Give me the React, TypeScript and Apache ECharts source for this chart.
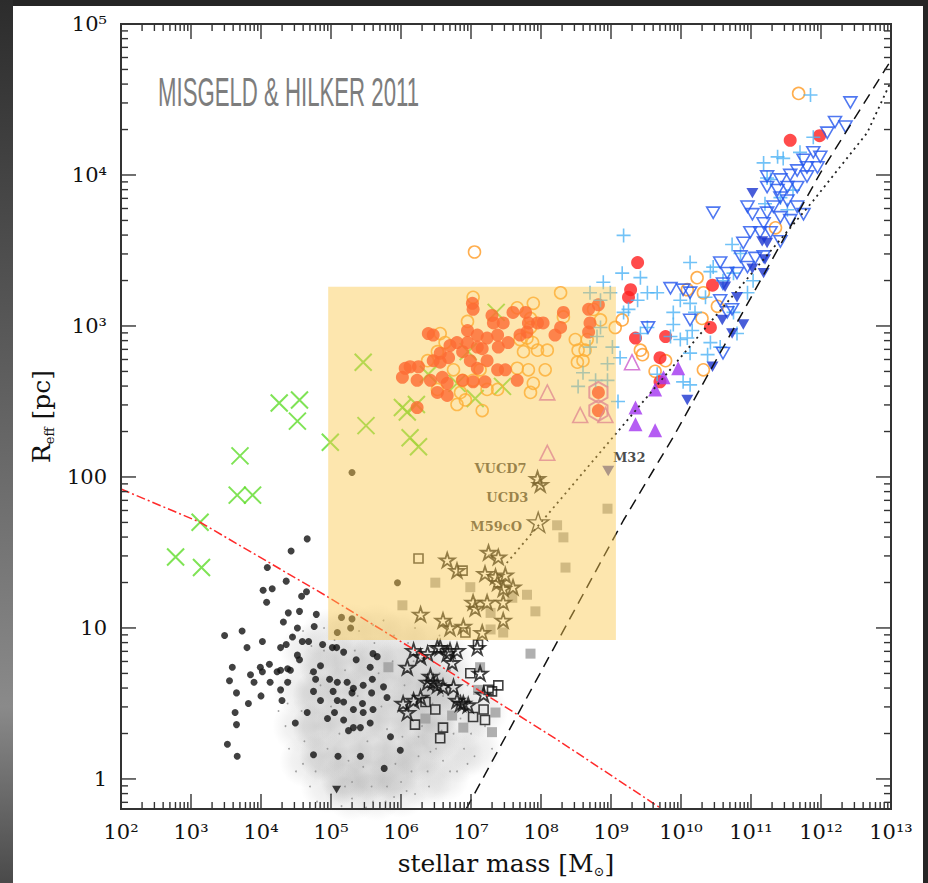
import React, { useEffect, useRef } from "react";
import * as echarts from "echarts";

// Every point: [log10(stellar mass / Msun), log10(R_eff / pc)]
const greenCross = [
  [2.78, 1.47], [3.15, 1.4], [3.13, 1.7], [3.66, 1.88], [3.88, 1.88], [3.7, 2.14], [4.26, 2.49], [4.55, 2.51],
  [4.52, 2.37], [4.99, 2.23], [5.46, 2.76], [5.5, 2.34], [6.02, 2.46], [6.09, 2.43], [6.13, 2.26], [6.25, 2.2],
  [6.22, 2.48], [6.39, 2.68], [6.8, 2.62], [6.96, 2.83], [7.06, 2.52], [7.36, 3.09], [7.45, 2.6],
];
const orangeCircle = [
  [7.03, 3.19], [7.89, 3.15], [8.28, 3.22], [6.95, 3.03], [6.56, 2.95], [6.63, 2.89], [6.38, 2.77], [6.52, 2.83],
  [7.66, 3.12], [7.85, 3.05], [7.7, 2.91], [7.8, 2.92], [7.88, 2.89], [7.75, 2.83], [7.95, 2.84], [8.09, 2.84],
  [7.85, 2.99], [8.32, 3.06], [8.49, 2.91], [8.53, 2.84], [8.6, 2.77], [8.52, 2.76], [7.66, 2.72], [7.82, 2.71],
  [8.06, 2.71], [7.89, 2.62], [7.85, 2.56], [6.85, 2.56], [6.92, 2.51], [6.8, 2.48], [7.16, 2.44], [6.88, 2.64],
  [6.75, 2.71], [7.13, 2.71], [7.03, 2.64], [6.52, 2.58], [7.23, 2.58], [7.38, 2.58], [9.06, 2.99], [9.16, 3.04],
  [8.85, 3.04], [8.66, 2.91], [8.63, 2.84], [8.75, 3.11],
  [7.05, 3.49], [11.68, 4.54], [11.35, 3.65], [10.23, 3.32], [10.09, 3.24], [10.32, 3.22], [10.52, 3.13],
  [10.3, 3.05], [9.42, 2.84], [9.45, 2.81], [9.63, 2.7], [9.78, 2.77], [10.32, 2.71],
];
const redDisc = [
  [11.56, 4.23], [11.98, 4.26], [9.38, 3.42], [9.28, 3.24], [9.25, 3.19], [10.45, 3.27], [9.35, 2.92], [9.78, 2.93],
  [9.7, 2.79], [9.7, 2.63], [10.42, 2.99], [8.82, 2.56], [8.82, 2.44],
  [7.02, 3.15], [7.03, 3.11], [6.39, 2.95], [6.46, 2.94], [7.6, 3.09], [7.78, 3.09], [7.46, 3.02], [7.32, 3.02],
  [8.03, 3.02], [8.32, 3.09], [8.28, 2.99], [8.2, 2.94], [8.68, 3.11], [8.82, 3.14], [8.7, 3.02], [8.68, 2.96],
  [7.8, 2.96], [7.7, 2.94], [7.53, 2.89], [7.39, 2.86], [7.23, 2.92], [7.09, 2.94], [6.95, 2.97], [6.8, 2.89],
  [6.88, 2.83], [6.99, 2.77], [7.16, 2.85], [7.23, 2.77], [7.38, 2.71], [7.49, 2.71], [7.09, 2.72], [6.68, 2.79],
  [6.56, 2.76], [6.46, 2.77], [6.25, 2.73], [6.13, 2.73], [6.06, 2.72], [6.02, 2.66], [6.23, 2.64], [6.42, 2.64],
  [6.59, 2.66], [6.66, 2.62], [6.88, 2.64], [7.03, 2.63], [7.2, 2.63], [6.52, 2.56], [6.66, 2.54], [6.23, 2.46],
  [7.66, 2.64], [6.95, 2.89], [7.09, 2.86], [6.7, 2.87], [6.56, 2.82], [7.38, 2.94], [7.95, 3.02], [7.82, 3.02],
  [7.3, 3.07],
];
const cyanPlus = [
  [11.85, 4.53], [9.18, 3.6], [11.89, 4.25], [11.38, 4.12], [11.46, 4.11], [11.7, 4.15], [11.28, 3.97], [11.2, 3.81],
  [11.6, 3.9], [10.13, 3.42], [10.42, 3.36], [9.42, 3.32], [8.89, 3.29], [9.16, 3.35], [9.66, 3.22], [9.52, 3.22],
  [9.38, 3.17], [9.25, 3.11], [9.89, 3.09], [9.99, 3.17], [10.13, 3.15], [10.2, 3.09], [9.89, 3.01], [9.85, 2.93],
  [9.99, 2.91], [10.09, 2.92], [10.16, 2.97], [10.42, 2.89], [10.56, 2.86], [10.8, 2.95], [10.75, 3.09],
  [10.95, 3.22], [11.03, 3.3], [10.75, 3.35], [10.46, 3.39], [10.6, 3.3], [10.35, 3.19], [10.13, 2.82],
  [10.03, 2.63], [9.66, 2.68], [9.13, 2.79], [9.02, 2.86], [9.52, 2.99], [9.42, 2.95], [9.1, 2.5], [9.18, 3.09],
  [8.85, 3.17], [8.99, 3.22], [8.7, 3.22], [8.85, 2.99], [8.7, 2.86], [8.95, 2.64], [10.38, 2.81], [10.13, 2.61],
  [11.23, 3.98], [11.18, 4.08], [11.42, 3.85], [11.52, 3.77], [10.85, 3.48], [10.73, 3.54], [8.8, 2.93],
  [8.6, 2.69], [8.53, 2.6], [8.78, 2.64], [8.95, 2.75],
];
const blueOpenTri = [
  [12.42, 4.48], [12.2, 4.35], [12.35, 4.32], [12.09, 4.28], [11.89, 4.15], [11.99, 4.12], [11.75, 4.1],
  [11.95, 4.05], [11.8, 4.05], [11.66, 4.03], [11.56, 4.0], [11.23, 3.99], [11.42, 3.97], [11.23, 3.92],
  [11.38, 3.9], [11.52, 3.92], [11.66, 3.92], [11.8, 3.99], [11.42, 3.85], [11.52, 3.83], [11.66, 3.79],
  [11.32, 3.79], [10.95, 3.79], [11.02, 3.74], [11.23, 3.75], [11.42, 3.72], [11.56, 3.7], [11.75, 3.74],
  [10.46, 3.75], [11.18, 3.68], [11.28, 3.62], [11.13, 3.62], [11.42, 3.56], [10.89, 3.55], [10.99, 3.62],
  [10.85, 3.46], [11.06, 3.45], [11.18, 3.46], [10.56, 3.42], [10.66, 3.35], [10.8, 3.35], [10.6, 3.28],
  [10.95, 3.39], [9.85, 3.25], [10.03, 3.24], [10.13, 3.22], [10.66, 3.09], [10.56, 3.17], [9.53, 2.99],
  [10.13, 3.04], [10.6, 2.82], [10.73, 3.11],
];
const blueFilledTri = [
  [11.02, 3.88], [11.16, 3.56], [11.2, 3.44], [10.63, 3.26], [10.8, 3.19], [10.59, 3.04], [10.89, 3.01],
  [10.73, 2.95], [10.45, 2.73], [10.09, 2.51], [11.02, 3.38], [11.23, 3.55], [11.18, 3.35],
];
const m32Tri = [[8.96, 2.04]];
const blackTriangle = [[5.08, -0.07]];
const purpleTri = [[9.96, 2.72], [9.75, 2.66], [9.63, 2.58], [9.35, 2.46], [9.35, 2.35], [9.63, 2.31]];
const magentaTri = [[8.09, 2.56], [8.56, 2.41], [8.09, 2.16], [9.3, 2.76], [8.92, 2.41]];
const magentaHex = [[8.82, 2.56], [8.82, 2.44]];
const blackStar = [
  [7.95, 1.99], [7.99, 1.95], [7.25, 1.5], [7.39, 1.47], [6.66, 1.45], [6.8, 1.38], [7.2, 1.36], [7.35, 1.34],
  [7.49, 1.35], [7.38, 1.3], [7.46, 1.26], [7.6, 1.27], [7.23, 1.17], [7.03, 1.17], [7.06, 1.13], [7.46, 1.17],
  [7.46, 1.05], [6.28, 1.09], [6.6, 1.05], [6.7, 1.0], [6.89, 1.01], [7.16, 0.97], [6.56, 0.87], [6.7, 0.85],
  [6.8, 0.85], [7.09, 0.87], [6.73, 0.77], [7.13, 0.7], [6.52, 0.62], [6.6, 0.61], [6.75, 0.61], [6.8, 0.52],
  [6.89, 0.5], [6.96, 0.49], [7.18, 0.56], [6.42, 0.68], [6.18, 0.85], [6.28, 0.81], [6.38, 0.83], [6.52, 0.87],
  [6.66, 0.83], [6.09, 0.74], [6.38, 0.64], [6.46, 0.64], [6.18, 0.52], [6.03, 0.5], [6.09, 0.44], [6.28, 0.54],
  [6.85, 0.5],
];
const m59co = [[7.96, 1.7]];
const openSquare = [
  [6.25, 1.46], [6.88, 1.38], [7.1, 0.89], [6.99, 0.7], [7.39, 0.62], [7.18, 0.46], [7.2, 0.39], [6.6, 0.34],
  [6.56, 0.27], [6.49, 0.46], [6.2, 0.36], [6.35, 0.51], [7.3, 0.58], [7.03, 0.41], [7.25, 0.59], [6.92, 0.97],
];
const graySquare = [
  [8.23, 1.68], [8.32, 1.6], [8.35, 1.4], [8.95, 1.79], [7.92, 1.11], [7.8, 1.22], [7.59, 1.2], [7.28, 1.1],
  [7.28, 0.99], [7.46, 0.97], [6.99, 1.27], [6.49, 1.3], [6.02, 1.15], [7.85, 0.83], [7.13, 0.74], [7.35, 0.44],
  [6.89, 0.34], [7.3, 0.31], [6.73, 0.42], [7.1, 0.59], [5.82, 0.74], [6.35, 0.4],
];
const blackDot = [
  [4.66, 1.59], [4.43, 1.51], [4.09, 1.4], [4.36, 1.31], [4.16, 1.26], [4.03, 1.25], [4.65, 1.24], [4.58, 1.21],
  [4.08, 1.17], [4.39, 1.1], [4.55, 1.11], [4.32, 1.04], [4.79, 1.09], [4.52, 1.0], [4.76, 1.01], [4.45, 0.94],
  [4.59, 0.91], [4.68, 0.91], [4.88, 0.89], [3.48, 0.95], [3.73, 0.98], [3.8, 0.87], [4.02, 0.91], [4.28, 0.87],
  [4.36, 0.89], [4.52, 0.82], [4.55, 0.79], [5.02, 0.87], [5.08, 0.87], [5.18, 0.84], [5.36, 0.79], [5.6, 0.83],
  [5.66, 0.81], [3.59, 0.74], [3.55, 0.65], [3.85, 0.69], [3.9, 0.64], [3.99, 0.74], [4.12, 0.76], [4.02, 0.71],
  [4.23, 0.71], [4.28, 0.72], [4.38, 0.73], [4.42, 0.72], [4.13, 0.64], [4.38, 0.64], [4.28, 0.59], [4.3, 0.52],
  [4.0, 0.55], [3.65, 0.57], [3.82, 0.5], [4.75, 0.71], [4.78, 0.66], [4.85, 0.75], [4.98, 0.66], [5.09, 0.64],
  [5.23, 0.64], [5.32, 0.6], [5.46, 0.62], [5.59, 0.66], [5.75, 0.61], [4.85, 0.52], [5.09, 0.52], [5.18, 0.51],
  [4.75, 0.58], [5.03, 0.58], [5.3, 0.57], [5.58, 0.57], [5.8, 0.54], [4.66, 0.44], [4.95, 0.4], [5.05, 0.44],
  [5.32, 0.46], [5.46, 0.44], [5.45, 0.5], [5.6, 0.46], [5.18, 0.39], [5.32, 0.34], [5.42, 0.34], [5.56, 0.37],
  [5.25, 0.32], [5.85, 0.28], [5.99, 0.19], [4.75, 0.16], [5.1, 0.15], [5.42, 0.15], [5.76, 0.07], [4.49, 0.37],
  [3.63, 0.44], [3.65, 0.36], [3.52, 0.23], [3.66, 0.15], [5.56, 0.74], [5.95, 1.3], [5.15, 1.07], [5.3, 1.06],
  [5.28, 1.0], [5.09, 0.97], [5.3, 2.03],
];
// the dense globular-cluster cloud, drawn as soft overlapping blobs plus faint specks
const cloudOuter = [
  [4.65, 0.85], [4.95, 0.95], [5.3, 0.98], [5.65, 0.98], [6.0, 0.95], [6.35, 0.9], [6.65, 0.8], [4.55, 0.6],
  [6.8, 0.62], [4.55, 0.35], [6.9, 0.4], [4.65, 0.12], [6.8, 0.15], [4.95, -0.05], [5.3, -0.1], [5.65, -0.1],
  [6.0, -0.08], [6.35, -0.02], [6.6, 0.02], [7.05, 0.2], [7.15, 0.45],
];
const cloudInner = [
  [4.9, 0.75], [5.25, 0.78], [5.6, 0.78], [5.95, 0.76], [6.3, 0.7], [6.55, 0.6], [4.8, 0.55], [5.15, 0.58],
  [5.5, 0.6], [5.85, 0.58], [6.2, 0.55], [6.5, 0.45], [4.8, 0.35], [5.15, 0.38], [5.5, 0.4], [5.85, 0.4],
  [6.2, 0.36], [6.5, 0.28], [4.9, 0.15], [5.25, 0.18], [5.6, 0.2], [5.95, 0.18], [6.25, 0.15], [5.2, 0.0],
  [5.55, 0.02], [5.9, 0.02],
];
const cloudSpeck = [
  [4.45, 0.95], [4.6, 0.98], [5.6, 1.02], [5.9, 0.95], [6.1, 0.9], [6.3, 0.8], [6.55, 0.7], [6.6, 0.55],
  [6.75, 0.3], [6.9, 0.2], [6.95, 0.1], [6.7, 0.05], [6.4, -0.05], [6.2, -0.1], [5.9, -0.12], [5.6, -0.15],
  [5.3, -0.13], [5.0, -0.1], [4.7, -0.05], [4.5, 0.05], [4.4, 0.2], [4.35, 0.35], [4.38, 0.5], [4.42, 0.65],
  [4.5, 0.8], [6.45, 0.62], [6.5, 0.2], [6.25, 0.15], [6.15, 0.05], [6.6, 0.12], [4.8, -0.15], [5.15, -0.18],
  [5.5, -0.19], [5.8, -0.05], [6.0, -0.02], [6.3, 0.35], [6.85, 0.4], [7.0, 0.3], [7.05, 0.15], [6.55, 0.95],
  [6.2, 1.0], [5.75, 1.05], [5.4, 0.98], [4.9, 1.0], [4.3, 0.6], [4.25, 0.45], [7.2, 0.35], [7.3, 0.2],
  [6.95, 0.62], [5.2, -0.05], [4.6, 0.1], [6.8, 0.05],
  [4.7, 0.7], [4.85, 0.62], [5.0, 0.48], [5.12, 0.3], [5.25, 0.12], [5.38, 0.55], [5.52, 0.25], [5.68, 0.7],
  [5.8, 0.33], [5.92, 0.1], [6.05, 0.62], [6.12, 0.42], [6.25, 0.28], [6.38, 0.05], [6.45, 0.5], [4.62, 0.25],
  [4.78, 0.05], [4.9, 0.85], [5.05, 0.92], [5.2, 0.72], [5.34, 0.85], [5.46, 0.08], [5.58, -0.05], [5.72, 0.48],
  [5.88, 0.78], [6.02, 0.28], [6.18, 0.78], [6.32, 0.62], [6.58, 0.32], [6.7, 0.72], [4.58, 0.45], [4.72, 0.88],
  [5.62, 0.9], [6.08, -0.08], [5.3, -0.02], [4.95, 0.2], [5.78, -0.15], [6.42, 0.18], [6.92, 0.5], [7.1, 0.6],
];
// reference relations
const redLimitLine = [[2, 1.92], [3.13, 1.7], [4.94, 1.21], [6.42, 0.79], [8.23, 0.26], [9.73, -0.2]];
const dashedLine = [[6.93, -0.2], [9.18, 1.715], [9.89, 2.265], [11.99, 4.013], [13, 4.76]];
const dottedLine = [[7.51, 1.43], [9.04, 2.27], [11.89, 3.83], [12.66, 4.28], [13, 4.62]];
// highlighted region [log M0, log M1, log R0, log R1]
const zoaBox = [4.96, 9.07, 0.92, 3.26];
const namedObjects = [
  { name: "VUCD7", m: 7.95, r: 1.99 },
  { name: "UCD3", m: 7.99, r: 1.95 },
  { name: "M59cO", m: 7.96, r: 1.7 },
  { name: "M32", m: 8.96, r: 2.04 },
];
const xTickExps = [2, 3, 4, 5, 6, 7, 8, 9, 10, 11, 12, 13];
const xTickLabels = ["10²", "10³", "10⁴", "10⁵", "10⁶", "10⁷", "10⁸", "10⁹", "10¹⁰", "10¹¹", "10¹²", "10¹³"];
const yTickExps = [0, 1, 2, 3, 4, 5];
const yTickLabels = ["1", "10", "100", "10³", "10⁴", "10⁵"];

const X_MIN = 1e2;
const X_MAX = 1e13;
const Y_MIN = Math.pow(10, -0.199);
const Y_MAX = 1e5;

const labelOffsets: Record<string, number[]> = {
  VUCD7: [-37, -10],
  UCD3: [-33, 13],
  M59cO: [-42, 4],
  M32: [21, -13],
};

const SYM = {
  cross: "path://M0,0L10,10M10,0L0,10",
  plus: "path://M5,0L5,10M0,5L10,5",
  triDown: "path://M0,0L10,0L5,8.66Z",
  star: "path://M50,0L61.2,34.5L97.6,34.5L68.2,55.9L79.4,90.5L50,69.1L20.6,90.5L31.8,55.9L2.4,34.5L38.8,34.5Z",
  hex: "path://M43.3,0L86.6,25L86.6,75L43.3,100L0,75L0,25Z",
};

const P = (arr: number[][]) => arr.map(([m, r]) => [Math.pow(10, m), Math.pow(10, r)]);
const NONE = "rgba(0,0,0,0)";

function sc(data: number[][], symbol: string, size: number, itemStyle: any, extra: any = {}) {
  return {
    type: "scatter",
    data: P(data),
    symbol,
    symbolSize: size,
    symbolKeepAspect: true,
    itemStyle,
    silent: true,
    ...extra,
  };
}

function soft(alpha: number) {
  return {
    type: "radial", x: 0.5, y: 0.5, r: 0.5,
    colorStops: [
      { offset: 0, color: `rgba(140,140,140,${alpha})` },
      { offset: 0.55, color: `rgba(150,150,150,${alpha * 0.7})` },
      { offset: 1, color: "rgba(160,160,160,0)" },
    ],
  };
}

function labelFrom(exps: number[], labels: string[]) {
  return (v: number) => {
    const l = Math.log10(v);
    const e = Math.round(l);
    if (Math.abs(l - e) > 1e-6) return "";
    const i = exps.indexOf(e);
    return i >= 0 ? labels[i] : "";
  };
}

function ticksRender(params: any, api: any) {
  const [x0, yB] = api.coord([X_MIN, Y_MIN]);
  const [x1, yT] = api.coord([X_MAX, Y_MAX]);
  const children: any[] = [];
  const st = () => ({ stroke: "#333", lineWidth: 1.4 });
  for (let e = 2; e < 13; e++) {
    for (let m = 1; m <= 9; m++) {
      const x = api.coord([m * Math.pow(10, e), 10])[0];
      const L = m === 1 ? 15 : 7;
      children.push({ type: "line", shape: { x1: x, y1: yB, x2: x, y2: yB - L }, style: st() });
      children.push({ type: "line", shape: { x1: x, y1: yT, x2: x, y2: yT + L }, style: st() });
    }
  }
  for (let e = -1; e < 5; e++) {
    for (let m = 1; m <= 9; m++) {
      const v = m * Math.pow(10, e);
      if (v < Y_MIN || v > Y_MAX) continue;
      const y = api.coord([1e5, v])[1];
      const L = m === 1 ? 15 : 7;
      children.push({ type: "line", shape: { x1: x0, y1: y, x2: x0 + L, y2: y }, style: st() });
      children.push({ type: "line", shape: { x1: x1, y1: y, x2: x1 - L, y2: y }, style: st() });
    }
  }
  children.push({
    type: "rect",
    shape: { x: x0, y: yT, width: x1 - x0, height: yB - yT },
    style: { fill: "none", stroke: "#333", lineWidth: 2 },
  });
  return { type: "group", children };
}

function overlayRender(params: any, api: any) {
  const a = api.coord([Math.pow(10, zoaBox[0]), Math.pow(10, zoaBox[3])]);
  const b = api.coord([Math.pow(10, zoaBox[1]), Math.pow(10, zoaBox[2])]);
  return {
    type: "rect",
    shape: { x: a[0], y: a[1], width: b[0] - a[0], height: b[1] - a[1] },
    style: { fill: "rgba(250,200,75,0.45)" },
  };
}

export default function App() {
  const ref = useRef<HTMLDivElement>(null);
  useEffect(() => {
    if (!ref.current) return;
    const chart = echarts.init(ref.current, null, { renderer: "svg" });
    const serif = "DejaVu Serif";
    const option: any = {
      animation: false,
      backgroundColor: "#262626",
      graphic: [
        {
          type: "rect", z: -1, silent: true,
          shape: { x: 0, y: 0, width: 13, height: 883 },
          style: {
            fill: {
              type: "linear", x: 0, y: 0, x2: 0, y2: 1,
              colorStops: [
                { offset: 0, color: "#2c2c2c" },
                { offset: 0.8, color: "#8a8a8a" },
                { offset: 1, color: "#4a4a4a" },
              ],
            },
          },
        },
        { type: "rect", z: -1, silent: true, shape: { x: 13, y: 6, width: 910, height: 877 }, style: { fill: "#ffffff" } },
        {
          type: "text", z: 1, silent: true, x: 158, y: 72, scaleX: 0.555,
          style: {
            text: "MISGELD & HILKER 2011",
            fill: "#7d7d7d",
            fontSize: 40,
            fontFamily: "'Liberation Sans Narrow', 'Liberation Sans', sans-serif",
            verticalAlign: "top",
          },
        },
      ],
      grid: { left: 121, right: 37, top: 24, bottom: 74, containLabel: false, outerBoundsMode: "none" },
      xAxis: {
        type: "log", logBase: 10, min: X_MIN, max: X_MAX, splitNumber: 11, interval: 1,
        axisLine: { show: false }, axisTick: { show: false }, splitLine: { show: false }, minorTick: { show: false },
        axisLabel: {
          formatter: labelFrom(xTickExps, xTickLabels), interval: 0, hideOverlap: false,
          fontFamily: serif, fontSize: 21, color: "#111", margin: 12,
        },
        name: "stellar mass [M{sub|⊙}]",
        nameLocation: "middle",
        nameGap: 40,
        nameTextStyle: {
          fontFamily: serif, fontSize: 25, color: "#111",
          rich: { sub: { fontFamily: serif, fontSize: 13, color: "#111", padding: [16, 0, 0, 0] } },
        },
      },
      yAxis: {
        type: "log", logBase: 10, min: Y_MIN, max: Y_MAX, splitNumber: 5,
        axisLine: { show: false }, axisTick: { show: false }, splitLine: { show: false }, minorTick: { show: false },
        axisLabel: { formatter: labelFrom(yTickExps, yTickLabels), fontFamily: serif, fontSize: 21, color: "#111", margin: 14 },
        name: "R{sub|eff} [pc]",
        nameLocation: "middle",
        nameGap: 62,
        nameTextStyle: {
          fontFamily: serif, fontSize: 25, color: "#111",
          rich: { sub: { fontFamily: serif, fontSize: 13, color: "#111", padding: [16, 0, 0, 0] } },
        },
      },
      series: [
        sc(cloudOuter, "circle", 54, { color: soft(0.22) }),
        sc(cloudInner, "circle", 50, { color: soft(0.42) }),
        sc(cloudSpeck, "circle", 1.8, { color: "#8a8a8a" }),
        sc(blackDot, "circle", 7, { color: "#111" }),
        sc(graySquare, "rect", 10, { color: "#9c9c9c" }),
        sc(openSquare, "rect", 9, { color: NONE, borderColor: "#111", borderWidth: 1.6 }),
        sc(blackStar, SYM.star, 15, { color: NONE, borderColor: "#111", borderWidth: 1.8 }),
        sc(m59co, SYM.star, 21, { color: NONE, borderColor: "#111", borderWidth: 1.4 }),
        sc(blackTriangle, SYM.triDown, 9, { color: "#111" }),
        sc(greenCross, SYM.cross, 17, { color: NONE, borderColor: "#5fdc2a", borderWidth: 2 }),
        sc(orangeCircle, "circle", 12, { color: NONE, borderColor: "#ff9a22", borderWidth: 1.6 }),
        sc(redDisc, "circle", 13, { color: "#ff1f1f" }),
        sc(cyanPlus, SYM.plus, 14, { color: NONE, borderColor: "#4db3f5", borderWidth: 1.6 }),
        sc(blueOpenTri, SYM.triDown, 13, { color: NONE, borderColor: "#2456ee", borderWidth: 1.6 }),
        sc(blueFilledTri, SYM.triDown, 12, { color: "#1a35d0" }),
        sc(m32Tri, SYM.triDown, 12, { color: "#4a4aa8" }),
        sc(purpleTri, "triangle", 14, { color: "#a235f0" }),
        sc(magentaTri, "triangle", 15, { color: NONE, borderColor: "#cc5ccc", borderWidth: 1.6 }),
        sc(magentaHex, SYM.hex, 21, { color: NONE, borderColor: "#cc5ccc", borderWidth: 2 }),
        {
          type: "line", data: P(redLimitLine), showSymbol: false, symbol: "none", silent: true,
          lineStyle: { color: "#ff2a2a", width: 1.5, type: [9, 3, 2, 3] },
        },
        {
          type: "line", data: P(dashedLine), showSymbol: false, symbol: "none", silent: true,
          lineStyle: { color: "#111", width: 1.5, type: [11, 7] },
        },
        {
          type: "line", data: P(dottedLine), showSymbol: false, symbol: "none", silent: true,
          lineStyle: { color: "#222", width: 1.8, type: [2, 4] },
        },
        {
          type: "scatter", silent: true, symbol: "circle", symbolSize: 1, itemStyle: { color: NONE },
          data: namedObjects.map((o) => ({
            name: o.name,
            value: [Math.pow(10, o.m), Math.pow(10, o.r)],
            label: { offset: labelOffsets[o.name] },
          })),
          label: {
            show: true, position: "inside", formatter: "{b}",
            fontFamily: serif, fontWeight: "bold", fontSize: 13, color: "#1a1a1a",
          },
        },
        { type: "custom", z: 5, silent: true, data: [[1e6, 10]], renderItem: overlayRender },
        { type: "custom", z: 6, silent: true, data: [[1e6, 10]], renderItem: ticksRender },
      ],
    };
    chart.setOption(option);
    return () => chart.dispose();
  }, []);
  return <div ref={ref} style={{ position: "fixed", left: 0, top: 0, width: 928, height: 883 }} />;
}
